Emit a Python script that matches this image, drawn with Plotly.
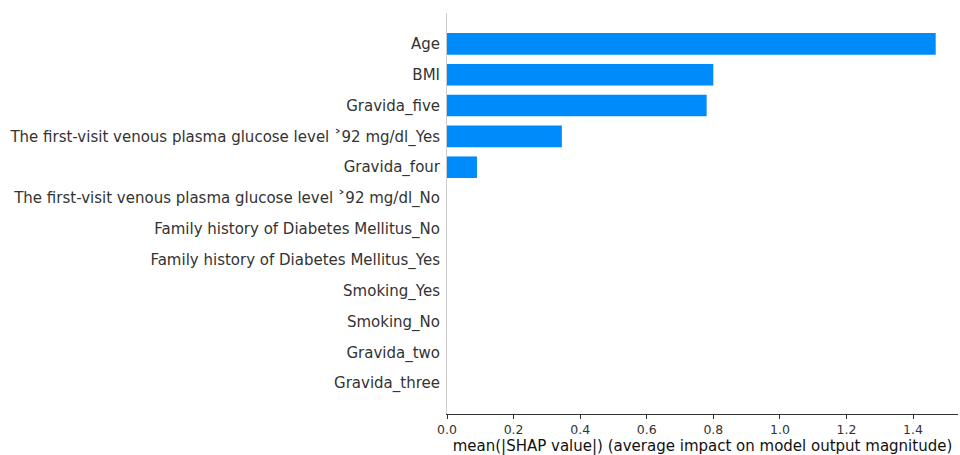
import plotly.graph_objects as go

features = [
    "Gravida_three",
    "Gravida_two",
    "Smoking_No",
    "Smoking_Yes",
    "Family history of Diabetes Mellitus_Yes",
    "Family history of Diabetes Mellitus_No",
    "The first-visit venous plasma glucose level \u02c392 mg/dl_No",
    "Gravida_four",
    "The first-visit venous plasma glucose level \u02c392 mg/dl_Yes",
    "Gravida_five",
    "BMI",
    "Age",
]
mean_abs_shap = [0.0, 0.0, 0.0, 0.0, 0.0, 0.0, 0.0, 0.09, 0.345, 0.78, 0.80, 1.468]

xticks = [0.0, 0.2, 0.4, 0.6, 0.8, 1.0, 1.2, 1.4]
xtick_text = ["0.0", "0.2", "0.4", "0.6", "0.8", "1.0", "1.2", "1.4"]
xlabel = "mean(|SHAP value|) (average impact on model output magnitude)"

FONT = "DejaVu Sans"
positions = list(range(len(features)))

fig = go.Figure()
fig.add_trace(go.Bar(
    y=positions,
    x=mean_abs_shap,
    orientation="h",
    width=0.7,
    marker=dict(color="#008bfb", line=dict(width=0)),
    hoverinfo="x+text",
    text=features,
    textposition="none",
))

fig.update_layout(
    width=960, height=455,
    margin=dict(l=447, r=2, t=13, b=41),
    plot_bgcolor="white", paper_bgcolor="white",
    showlegend=False,
    font=dict(family=FONT, color="#333333"),
)
fig.update_xaxes(
    range=[0, 1.535],
    tickvals=xticks, ticktext=xtick_text,
    ticks="outside", ticklen=4, tickwidth=1, tickcolor="#333333",
    tickfont=dict(size=12.5, color="#333333"),
    showline=True, linecolor="#333333", linewidth=1,
    showgrid=False, zeroline=False,
    title=dict(text=xlabel, font=dict(size=15, color="#111111"), standoff=2),
)
fig.update_yaxes(
    range=[-1, len(features)],
    tickvals=positions, ticktext=features,
    ticks="", tickfont=dict(size=15, color="#333333"),
    showline=True, linecolor="#cccccc", linewidth=1,
    showgrid=False, zeroline=False,
    ticklabelstandoff=3,
)

fig.write_html("out.html")
